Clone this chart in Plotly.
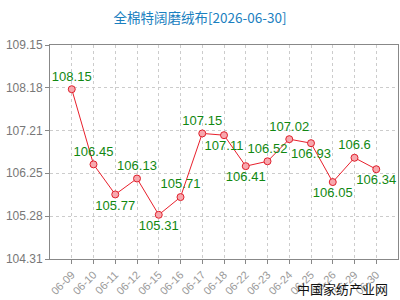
import plotly.graph_objects as go

dates = ["06-09","06-10","06-11","06-12","06-15","06-16","06-17","06-18","06-22","06-23","06-24","06-25","06-26","06-29","06-30"]
values = [108.15,106.45,105.77,106.13,105.31,105.71,107.15,107.11,106.41,106.52,107.02,106.93,106.05,106.6,106.34]
label_pos = ["top center","top center","bottom center","top center","bottom center","top center","top center","bottom center",
             "bottom center","top center","top center","bottom center","bottom center","top center","bottom center"]
yticks = [104.31,105.28,106.25,107.21,108.18,109.15]
ytick_text = ["104.31","105.28","106.25","107.21","108.18","109.15"]
title = "全棉特阔磨绒布[2026-06-30]"
watermark = "中国家纺产业网"

fig = go.Figure()
fig.add_trace(go.Scatter(
    x=list(range(len(dates))), y=values, mode="lines+markers+text",
    text=[str(v) for v in values], textposition=label_pos,
    textfont=dict(color="#118811", size=13, family="Liberation Sans, Arial"),
    line=dict(color="#e8202c", width=1),
    marker=dict(size=7, color="#f7a8ae", line=dict(color="#e0202c", width=1)),
    cliponaxis=False, showlegend=False))

fig.update_layout(
    width=400, height=300,
    margin=dict(l=50, r=2, t=45, b=41),
    paper_bgcolor="white", plot_bgcolor="white",
    title=dict(text=title, x=0.5, xanchor="center", y=0.94, yanchor="middle",
               font=dict(color="#1a80c0", size=13.5, family="Noto Sans CJK SC")),
    xaxis=dict(range=[-1, 15], tickvals=list(range(len(dates))), ticktext=dates,
               tickangle=-45, showgrid=True, gridcolor="#cccccc", griddash="dot",
               showline=True, linecolor="#888888", mirror=True, zeroline=False,
               ticks="outside", ticklen=4, tickcolor="#888888",
               tickfont=dict(color="#999999", size=11, family="Liberation Sans, Arial")),
    yaxis=dict(range=[104.31, 109.15], tickvals=yticks, ticktext=ytick_text,
               showgrid=True, gridcolor="#cccccc", griddash="dot",
               showline=True, linecolor="#888888", mirror=True, zeroline=False,
               ticks="outside", ticklen=4, tickcolor="#888888",
               tickfont=dict(color="#777777", size=12, family="Liberation Sans, Arial")),
)
fig.add_annotation(text=watermark, xref="paper", yref="paper", x=0.977, y=-0.085,
                   xanchor="right", yanchor="top", showarrow=False,
                   font=dict(color="#111111", size=13, family="Noto Sans CJK SC"))
fig.write_html("out.html")
